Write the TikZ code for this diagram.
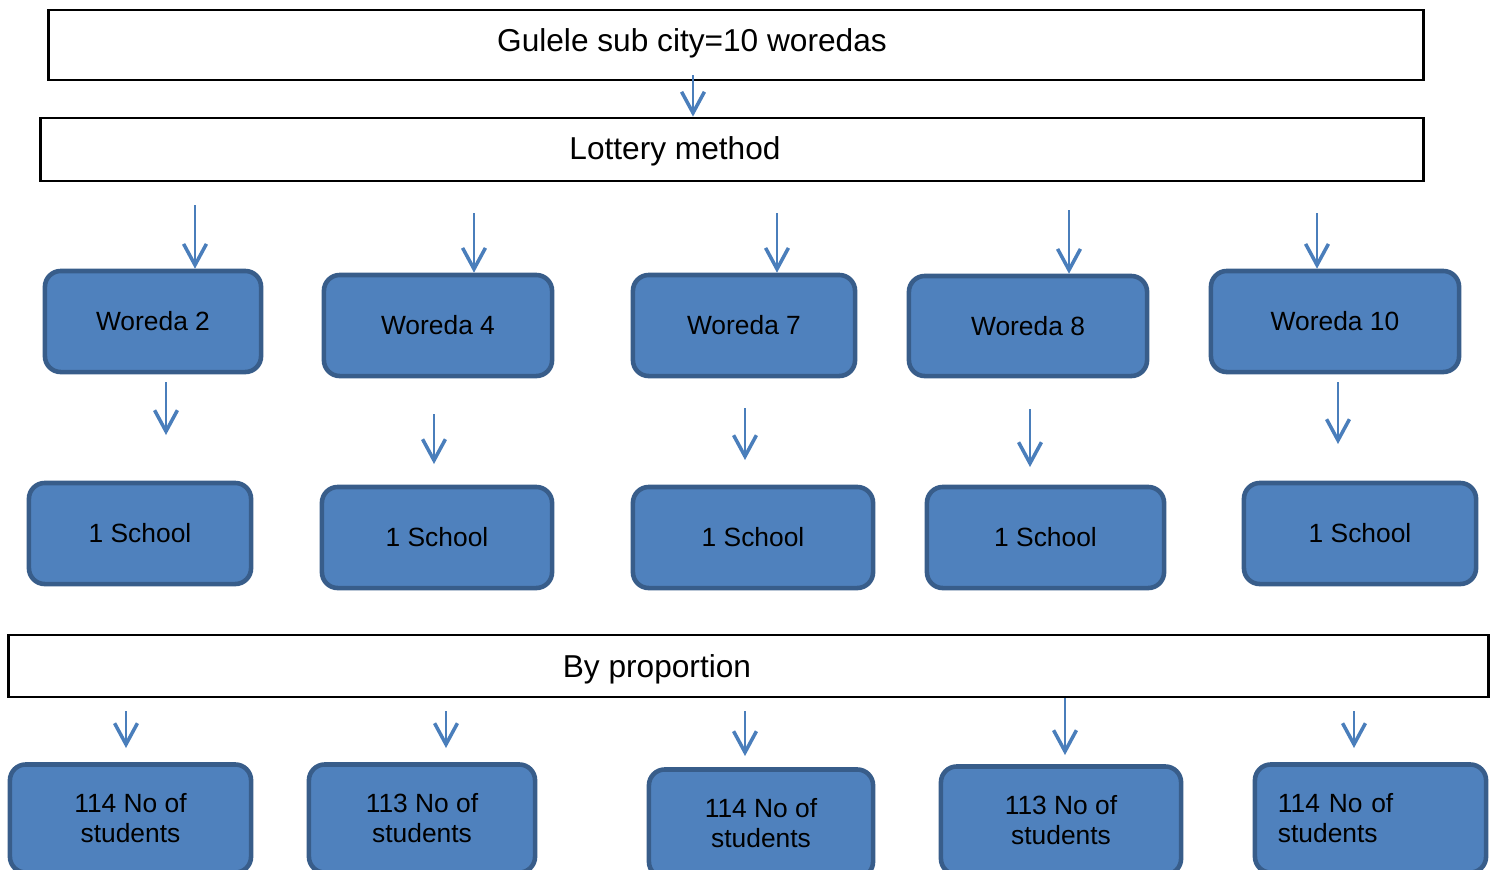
\documentclass[tikz,border=0pt]{standalone}
\usepackage{fontspec}
\setmainfont{Liberation Sans}
\usetikzlibrary{arrows.meta}
\definecolor{boxfill}{HTML}{4F81BD}
\definecolor{boxedge}{HTML}{385D8A}
\definecolor{arrblue}{HTML}{4A7EBB}
\tikzset{>={Straight Barb[length=6pt,width=6.5pt,line width=1pt]}}
\tikzset{
    hdr/.style={draw, line width=0.8pt, inner sep=0pt},
    hdrtext/.style={font=\fontsize{9}{11}\selectfont},
    blk/.style={draw=boxedge, fill=boxfill, line width=1.3pt, rounded corners=4.5pt,
        inner sep=0pt, align=center, minimum height=1.01cm, font=\fontsize{7.5}{8.5}\selectfont},
    cut/.style={blk, minimum height=1.08cm},
    arr/.style={->, draw=arrblue, line width=0.5pt}
}

\begin{document}
\begin{tikzpicture}[x=0.01cm, y=-0.01cm]
    \useasboundingbox (0,0) rectangle (1494,869);
    \clip (0,0) rectangle (1494,869);
    % header boxes
    \node[hdr, minimum width=13.74cm, minimum height=0.70cm,
        label={[hdrtext, xshift=-0.44cm, yshift=0.02cm]center:Gulele sub city=10 woredas}] (city) at (736,45) {};
    \node[hdr, minimum width=13.82cm, minimum height=0.63cm,
        label={[hdrtext, xshift=-0.57cm, yshift=-0.02cm]center:Lottery method}] (lottery) at (732,149.5) {};
    \node[hdr, minimum width=14.79cm, minimum height=0.62cm,
        label={[hdrtext, xshift=-0.915cm, yshift=-0.03cm]center:By proportion}] (prop) at (748.5,666) {};
    % woredas
    \node[blk, minimum width=2.16cm] (w2) at (153,321.5) {Woreda 2};
    \node[blk, minimum width=2.28cm] (w4) at (438,325.5) {Woreda 4};
    \node[blk, minimum width=2.22cm] (w7) at (744,325.5) {Woreda 7};
    \node[blk, minimum width=2.38cm, minimum height=1.00cm] (w8) at (1028,326) {Woreda 8};
    \node[blk, minimum width=2.48cm] (w10) at (1335,321.5) {Woreda 10};
    % schools
    \node[blk, minimum width=2.22cm] (s2) at (140,533.5) {1 School};
    \node[blk, minimum width=2.30cm] (s4) at (437,537.5) {1 School};
    \node[blk, minimum width=2.40cm] (s7) at (753,537.5) {1 School};
    \node[blk, minimum width=2.37cm] (s8) at (1045.5,537.5) {1 School};
    \node[blk, minimum width=2.32cm] (s10) at (1360,533.5) {1 School};
    % students (cut off at the bottom)
    \node[cut, minimum width=2.41cm] (n2) at (130.5,818.5) {114 No of\\students};
    \node[cut, minimum width=2.26cm] (n4) at (422,818.5) {113 No of\\students};
    \node[cut, minimum width=2.24cm] (n7) at (761,823.5) {114 No of\\students};
    \node[cut, minimum width=2.40cm] (n8) at (1061,820.5) {113 No of\\students};
    \node[cut, align=left, text width=1.85cm, inner xsep=0.23cm] (n10) at (1370.5,818.5) {114 No of\\students};
    % arrows
    \draw[arr] (693,75) -- (lottery.north -| 693,0);
    \foreach \n/\x/\y in {w2/195/205, w4/474/213, w7/777/213, w8/1069/210, w10/1317/213}
        \draw[arr] (\x,\y) -- (\n.north -| \x,0);
    \foreach \x/\a/\b in {166/382/435, 434/414/464, 745/408/460, 1030/409/467, 1338/382/444,
        126/711/748, 446/711/748, 745/711/756, 1354/711/748}
        \draw[arr] (\x,\a) -- (\x,\b);
    \draw[arr] (prop.south -| 1065,0) -- (1065,755);
\end{tikzpicture}
\end{document}
